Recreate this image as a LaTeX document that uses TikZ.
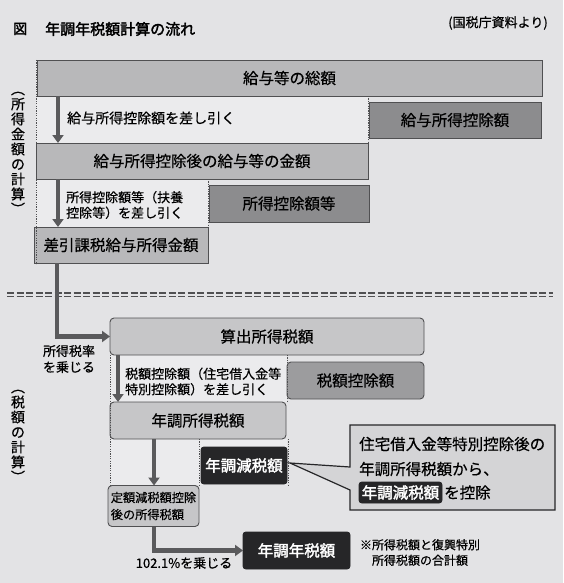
\documentclass[tikz,border=0pt]{standalone}
\usepackage{fontspec}
\setmainfont{Noto Sans CJK JP}[FakeBold=0.5]
\newfontfamily\titlefont{Noto Sans CJK JP}[FakeBold=2.2]
\usetikzlibrary{arrows.meta,calc}
\definecolor{bg}{HTML}{E3E3E5}
\definecolor{lreg}{HTML}{EBEBED}
\definecolor{gbox}{HTML}{B8B8BA}
\definecolor{dbox}{HTML}{8C8C8E}
\definecolor{lbox}{HTML}{C6C6C8}
\definecolor{tbox}{HTML}{9C9C9E}
\definecolor{blk}{HTML}{262628}
\definecolor{callc}{HTML}{D4D4D6}
\definecolor{arrc}{HTML}{5A5A5C}
\definecolor{linec}{HTML}{505052}
\newcommand{\fs}[2]{\fontsize{#1}{#2}\selectfont}
\newcommand{\vop}{\rotatebox[origin=c]{-90}{（}}
\newcommand{\vcl}{\rotatebox[origin=c]{-90}{）}}
\tikzset{
  base/.style={inner sep=0pt, outer sep=0pt, draw=linec, line width=0.9pt, text=black, font=\fs{15.5}{18}},
  gboxs/.style={base, fill=gbox},
  dboxs/.style={base, fill=dbox},
  lboxs/.style={base, fill=lbox, rounded corners=4pt},
  tboxs/.style={base, fill=tbox, rounded corners=4pt},
  blks/.style={base, fill=blk, draw=blk, rounded corners=3pt, text=white, font=\titlefont\fs{15.5}{18}},
  flow/.style={draw=arrc, line width=4.5pt, -{Triangle[length=8pt,width=11pt]}},
  dotl/.style={draw=linec, line width=0.8pt, dash pattern=on 1.2pt off 1.2pt},
  lbl/.style={inner sep=0pt, align=left, text=black},
  vlab/.style={inner sep=0pt, align=center, font=\fs{14}{15}},
}
\begin{document}
\begin{tikzpicture}[x=1pt,y=-1pt]
\useasboundingbox (0,0) rectangle (563,583);
\fill[bg] (0,0) rectangle (563,583);

% title
\node[lbl, anchor=west, font=\titlefont\fs{14}{16}] (fig) at (13,29) {図};
\node[lbl, anchor=west, font=\titlefont\fs{15}{18}] (title) at (45,29) {年調年税額計算の流れ};
\node[lbl, font=\fs{13}{15}] (src) at (498,23) {(国税庁資料より)};

% light regions
\fill[lreg] (36,96) rectangle (368,143);
\fill[lreg] (36,179) rectangle (208,227);
\fill[lreg] (110,355) rectangle (287,402);
\fill[lreg] (110,439) rectangle (287,485);

% upper boxes
\node[gboxs, minimum width=505pt, minimum height=36pt] (b1) at (289.5,78) {給与等の総額};
\node[dboxs, minimum width=172pt, minimum height=36pt] (b2) at (455,120) {給与所得控除額};
\node[gboxs, minimum width=332pt, minimum height=36pt] (b3) at (202,161) {給与所得控除後の給与等の金額};
\node[dboxs, minimum width=160pt, minimum height=37pt] (b4) at (289,203.5) {所得控除額等};
\node[gboxs, minimum width=174pt, minimum height=36pt] (b5) at (121,245) {差引課税給与所得金額};

% lower boxes
\node[lboxs, minimum width=314pt, minimum height=37pt] (b6) at (267,336.5) {算出所得税額};
\node[tboxs, minimum width=137pt, minimum height=37pt] (b7) at (355.5,380.5) {税額控除額};
\node[lboxs, minimum width=176pt, minimum height=37pt] (b8) at (198,420.5) {年調所得税額};
\node[blks, minimum width=86pt, minimum height=37pt] (b9) at (244,465.5) {年調減税額};
\node[lboxs, minimum width=91pt, minimum height=41pt, align=left, font=\fs{12.2}{17}] (b10) at (153.5,506) {定額減税額控除\\後の所得税額};
\node[blks, minimum width=107pt, minimum height=37pt] (b11) at (296.5,550.5) {年調年税額};

% dotted frames
\draw[dotl] (36,60) -- (36,264);
\draw[dotl] (368,96) -- (368,143);
\draw[dotl] (208,179) -- (208,227);
\draw[dotl] (110,355) -- (110,486);
\draw[dotl] (287,355) -- (287,402);
\draw[dotl] (288,439) -- (288,485);
\draw[dotl] (199,439) -- (199,485);

% double dashed separator
\draw[draw=linec, line width=1.3pt, dash pattern=on 7pt off 2.5pt] (7,293) -- (553,293);
\draw[draw=linec, line width=1.3pt, dash pattern=on 7pt off 2.5pt] (7,296.5) -- (553,296.5);

% flow arrows
\coordinate (xa) at (58,0);
\coordinate (xc) at (57,0);
\coordinate (xd) at (118,0);
\coordinate (xe) at (154,0);
\draw[flow] (b1.south -| xa) -- (b3.north -| xa);
\draw[flow] (b3.south -| xa) -- (b5.north -| xa);
\draw[flow] (b5.south -| xc) |- (b6.west);
\draw[flow] (b6.south -| xd) -- (b8.north -| xd);
\draw[flow] (b8.south -| xe) -- (b10.north -| xe);
\draw[flow] (b10.south -| xe) |- (b11.west);

% labels
\node[lbl, anchor=west, font=\fs{14}{16}] (t1) at (67,118) {給与所得控除額を差し引く};
\node[lbl, anchor=west, font=\fs{13}{15.5}] (t2) at (66,205) {所得控除額等（扶養\\控除等）を差し引く};
\node[lbl, align=center, font=\fs{13}{16}] (t3) at (69,359) {所得税率\\を乗じる};
\node[lbl, anchor=west, font=\fs{13}{15.5}] (t4) at (125,381.5) {税額控除額（住宅借入金等\\特別控除額）を差し引く};
\node[lbl, font=\fs{13}{15}] (t5) at (184,563) {102.1\%を乗じる};
\node[lbl, align=center, font=\fs{12}{15.5}] (t6) at (420,552.5) {※所得税額と復興特別\\所得税額の合計額};

% vertical section labels
\node[vlab] (v1) at (18,149) {\vop\\所\\得\\金\\額\\の\\計\\算\\\vcl};
\node[vlab] (v2) at (18,432) {\vop\\税\\額\\の\\計\\算\\\vcl};

% callout
\coordinate (tip) at ($(b9.east)+(3,-2.5)$);
\draw[fill=callc, draw=blk, line width=1.2pt, line join=miter]
  (350,425) -- (555,425) -- (555,510) -- (350,510) -- (350,490) -- (tip) -- (350,467) -- cycle;
\node[lbl, anchor=west, font=\fs{15.5}{18}] (c1) at (359,444) {住宅借入金等特別控除後の};
\node[lbl, anchor=west, font=\fs{15.5}{18}] (c2) at (359,469) {年調所得税額から、};
\node[blks, minimum width=83pt, minimum height=21pt] (c3) at (400.5,492.5) {年調減税額};
\node[lbl, anchor=west, font=\fs{15.5}{18}] (c4) at ($(c3.east)+(2,0)$) {を控除};
\end{tikzpicture}
\end{document}
